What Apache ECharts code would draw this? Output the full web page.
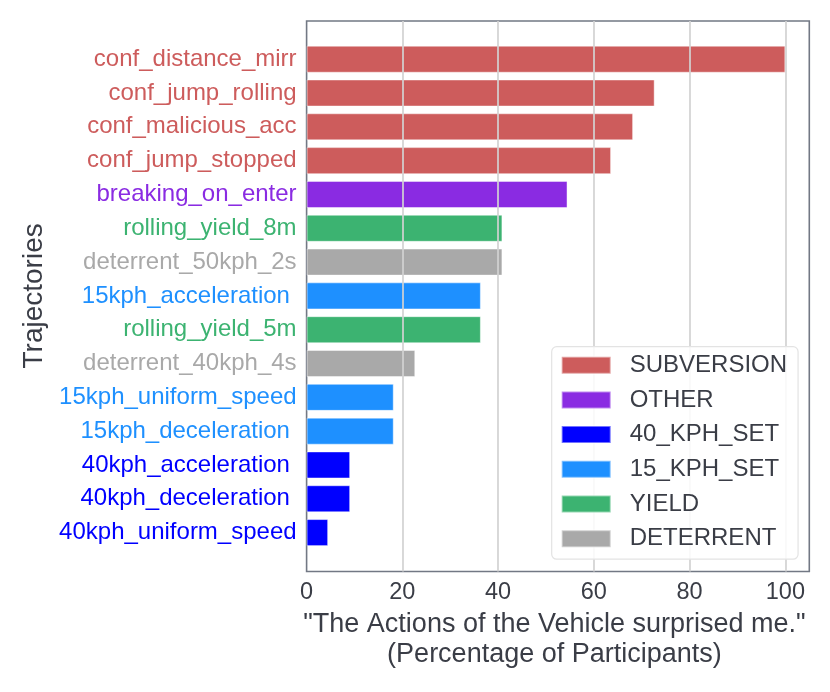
<!DOCTYPE html>
<html>
<head>
<meta charset="utf-8">
<script src="https://cdn.jsdelivr.net/npm/echarts@6/dist/echarts.min.js"></script>
<style>html,body{margin:0;padding:0;background:#fff}#c{width:830px;height:692px}</style>
</head>
<body>
<div id="c"></div>
<script>
const categories = ['conf_distance_mirr','conf_jump_rolling','conf_malicious_acc','conf_jump_stopped','breaking_on_enter','rolling_yield_8m','deterrent_50kph_2s','15kph_acceleration ','rolling_yield_5m','deterrent_40kph_4s','15kph_uniform_speed','15kph_deceleration ','40kph_acceleration ','40kph_deceleration ','40kph_uniform_speed'];
const values = [100, 72.7, 68.2, 63.6, 54.5, 40.9, 40.9, 36.4, 36.4, 22.7, 18.2, 18.2, 9.1, 9.1, 4.5];
const groups = ['SUBVERSION','SUBVERSION','SUBVERSION','SUBVERSION','OTHER','YIELD','DETERRENT','15_KPH_SET','YIELD','DETERRENT','15_KPH_SET','15_KPH_SET','40_KPH_SET','40_KPH_SET','40_KPH_SET'];
const groupNames = ['SUBVERSION','OTHER','40_KPH_SET','15_KPH_SET','YIELD','DETERRENT'];
const xTicks = [0, 20, 40, 60, 80, 100];

const groupColors = {SUBVERSION:'#CD5C5C', OTHER:'#8A2BE2', '40_KPH_SET':'#0000FF', '15_KPH_SET':'#1E90FF', YIELD:'#3CB371', DETERRENT:'#A9A9A9'};
const FONT = "'Liberation Sans', Arial, Helvetica, sans-serif";
const TXT = '#3a3d46';

const chart = echarts.init(document.getElementById('c'), null, {renderer:'canvas'});
const series = groupNames.map(g => ({
  name: g,
  type: 'bar',
  stack: 'all',
  xAxisIndex: 1,
  yAxisIndex: 0,
  barCategoryGap: '20%',
  itemStyle: {color: groupColors[g], borderColor: 'rgba(255,255,255,0.45)', borderWidth: 1},
  data: values.map((v, i) => groups[i] === g ? v : '-'),
  z: 2
}));

chart.setOption({
  animation: false,
  textStyle: {fontFamily: FONT},
  grid: [
    {left: 306.6, right: 20.7, top: 21, bottom: 120.5, show: true, borderColor: '#727884', borderWidth: 1.6, backgroundColor: 'transparent'},
    {left: 306.6, right: 20.7, top: 42.3, bottom: 142.5, show: false}
  ],
  xAxis: [
    {
      type: 'value', gridIndex: 0, min: xTicks[0], max: 105, interval: 20, z: 3,
      axisLine: {show: false}, axisTick: {show: false},
      axisLabel: {fontSize: 23.5, color: TXT, margin: 9, fontFamily: FONT, showMaxLabel: false,
        formatter: v => xTicks.indexOf(v) >= 0 ? String(v) : ''},
      splitLine: {show: true, showMinLine: false, showMaxLine: false, lineStyle: {color: '#d2d2d2', width: 1.7}},
      name: '"The Actions of the Vehicle surprised me."\n(Percentage of Participants)',
      nameLocation: 'middle', nameGap: 34,
      nameTextStyle: {fontSize: 27, lineHeight: 30, color: TXT, fontFamily: FONT, padding: [0, 7, 0, 0]}
    },
    {type: 'value', gridIndex: 1, min: 0, max: 105, show: false, splitLine: {show: false}}
  ],
  yAxis: [
    {
      type: 'category', gridIndex: 1, data: categories, inverse: true,
      axisLine: {show: false}, axisTick: {show: false}, splitLine: {show: false},
      axisLabel: {fontSize: 24, margin: 10, fontFamily: FONT,
        color: (val, idx) => groupColors[groups[idx]]},
      name: 'Trajectories', nameLocation: 'middle', nameGap: 257,
      nameTextStyle: {fontSize: 28, color: TXT, fontFamily: FONT}
    },
    {type: 'value', gridIndex: 0, show: false, splitLine: {show: false}}
  ],
  legend: {
    orient: 'vertical', left: 551.7, top: 346.7,
    data: groupNames,
    icon: 'rect', itemWidth: 49, itemHeight: 17, itemGap: 10.7,
    padding: [6.5, 11, 8.5, 9],
    borderColor: '#e3e3e3', borderWidth: 1.2, borderRadius: 5,
    backgroundColor: 'rgba(255,255,255,0.85)',
    textStyle: {fontSize: 24, color: TXT, fontFamily: FONT, padding: [0, 0, 0, 14]},
    z: 10
  },
  series: series
});
</script>
</body>
</html>
